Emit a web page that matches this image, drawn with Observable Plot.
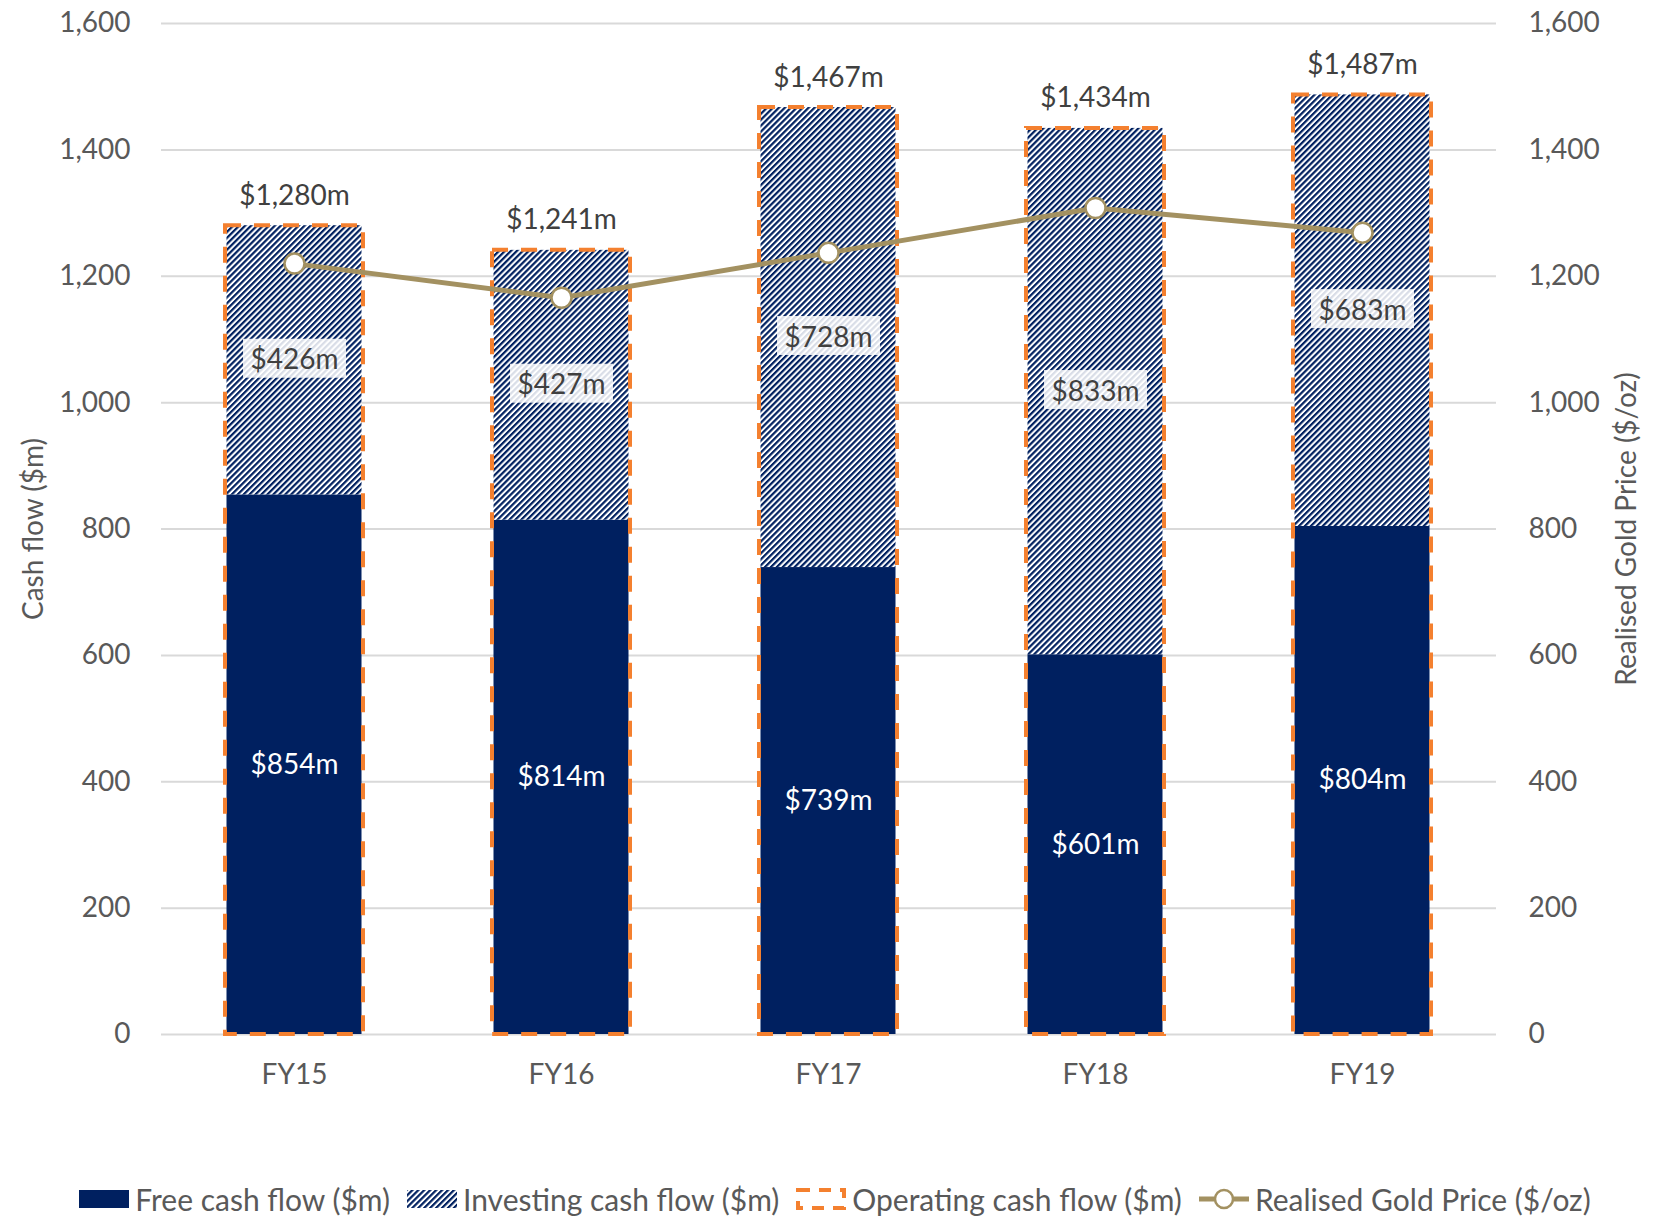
<!DOCTYPE html>
<html><head><meta charset="utf-8">
<script src="https://cdn.jsdelivr.net/npm/d3@7"></script>
<script src="https://cdn.jsdelivr.net/npm/@observablehq/plot@0.6"></script>
<style>
body{margin:0;background:#fff;font-family:Lato,sans-serif;}
#legend{display:flex;justify-content:center;align-items:center;gap:17px;font-size:30px;line-height:34px;color:#595959;margin-top:82px;}
#legend .item{display:flex;align-items:center;gap:6px;}
#legend svg{display:block;}
</style></head><body>
<svg width="0" height="0" style="position:absolute"><defs>
<pattern id="hatch" width="4.2" height="4.2" patternUnits="userSpaceOnUse" patternTransform="rotate(45)">
<rect width="4.2" height="4.2" fill="white"/><rect width="2.2" height="4.2" fill="#002060"/>
</pattern></defs></svg>
<div id="chart"></div>
<div id="legend"></div>
<script>
const years = ["FY15","FY16","FY17","FY18","FY19"];
const freeCash = [854, 814, 739, 601, 804];
const investingCash = [426, 427, 728, 833, 683];
const operatingCash = [1280, 1241, 1467, 1434, 1487];
const goldPrice = [1220, 1166, 1237, 1308, 1269];
const yTicks = [0, 200, 400, 600, 800, 1000, 1200, 1400, 1600];
const legendLabels = ["Free cash flow ($m)", "Investing cash flow ($m)", "Operating cash flow ($m)", "Realised Gold Price ($/oz)"];
const axisTitles = ["Cash flow ($m)", "Realised Gold Price ($/oz)"];

const NAVY = "#002060", ORANGE = "#F4802F", GOLD = "#A39161", GREY = "#595959", DARK = "#404040";

const data = years.map((y, i) => ({year: y, free: freeCash[i], inv: investingCash[i], op: operatingCash[i], gold: goldPrice[i]}));
const fmt = v => "$" + d3.format(",")(v) + "m";
const comma = d3.format(",");

const plot = Plot.plot({
  width: 1670, height: 1100,
  marginLeft: 161, marginRight: 174, marginTop: 23, marginBottom: 66,
  style: {fontFamily: "Lato, sans-serif", fontSize: "28px", color: GREY, background: "white"},
  x: {domain: years, paddingInner: 0.483, paddingOuter: 0.2415, label: null},
  y: {domain: [0, 1600], label: null},
  marks: [
    Plot.gridY(yTicks, {stroke: "#D9D9D9", strokeOpacity: 1, strokeWidth: 2}),
    Plot.axisY(yTicks, {anchor: "left", tickSize: 0, tickPadding: 31, tickFormat: comma, label: null, fill: GREY}),
    Plot.axisY(yTicks, {anchor: "right", tickSize: 0, tickPadding: 32, tickFormat: comma, label: null, fill: GREY}),
    Plot.axisX({tickSize: 0, tickPadding: 30, label: null, fill: GREY}),
    Plot.barY(data, {x: "year", y1: 0, y2: "free", fill: NAVY, insetLeft: 1.5, insetRight: 1.5}),
    Plot.barY(data, {x: "year", y1: "free", y2: "op", fill: "url(#hatch)", insetLeft: 1.5, insetRight: 1.5}),
    Plot.barY(data, {x: "year", y1: 0, y2: "op", fill: "none", stroke: ORANGE, strokeWidth: 4, strokeDasharray: "16,13"}),
    Plot.line(data, {x: "year", y: "gold", stroke: GOLD, strokeWidth: 5}),
    Plot.dot(data, {x: "year", y: "gold", r: 10, fill: "white", stroke: GOLD, strokeWidth: 2.5}),
    Plot.text(data, {x: "year", y: "op", text: d => fmt(d.op), dy: -30, fill: DARK}),
    Plot.text(data, {x: "year", y: d => d.free + d.inv / 2, text: d => fmt(d.inv), fill: DARK}),
    Plot.text(data, {x: "year", y: d => d.free / 2, text: d => fmt(d.free), fill: "white"}),
    Plot.text([axisTitles[0]], {frameAnchor: "left", textAnchor: "middle", rotate: -90, dx: -127, fill: GREY}),
    Plot.text([axisTitles[1]], {frameAnchor: "right", textAnchor: "middle", rotate: -90, dx: 131, fill: GREY})
  ]
});
document.getElementById("chart").appendChild(plot);

// white boxes behind investing labels
const invTexts = new Set(investingCash.map(fmt));
for (const t of Array.from(plot.querySelectorAll("text"))) {
  if (!invTexts.has(t.textContent)) continue;
  const b = t.getBBox();
  const r = document.createElementNS("http://www.w3.org/2000/svg", "rect");
  r.setAttribute("x", b.x - 7.5);
  r.setAttribute("y", b.y + (b.height - 39) / 2);
  r.setAttribute("width", b.width + 15);
  r.setAttribute("height", 39);
  r.setAttribute("fill", "white");
  r.setAttribute("fill-opacity", "0.85");
  const tr = t.getAttribute("transform");
  if (tr) r.setAttribute("transform", tr);
  t.parentNode.insertBefore(r, t);
}

// legend
const swatches = [
  `<svg width="50" height="22"><rect x="0" y="2" width="50" height="18" fill="${NAVY}"/></svg>`,
  `<svg width="50" height="22"><rect x="0" y="2" width="50" height="18" fill="url(#hatch)"/></svg>`,
  `<svg width="50" height="24"><rect x="2" y="3" width="46" height="18" fill="none" stroke="${ORANGE}" stroke-width="4" stroke-dasharray="12,9"/></svg>`,
  `<svg width="50" height="24"><line x1="0" y1="12" x2="50" y2="12" stroke="${GOLD}" stroke-width="5"/><circle cx="25" cy="12" r="9" fill="white" stroke="${GOLD}" stroke-width="2.5"/></svg>`
];
const legend = document.getElementById("legend");
legendLabels.forEach((lab, i) => {
  const it = document.createElement("div");
  it.className = "item";
  it.innerHTML = swatches[i] + `<span>${lab}</span>`;
  legend.appendChild(it);
});
</script>
</body></html>
